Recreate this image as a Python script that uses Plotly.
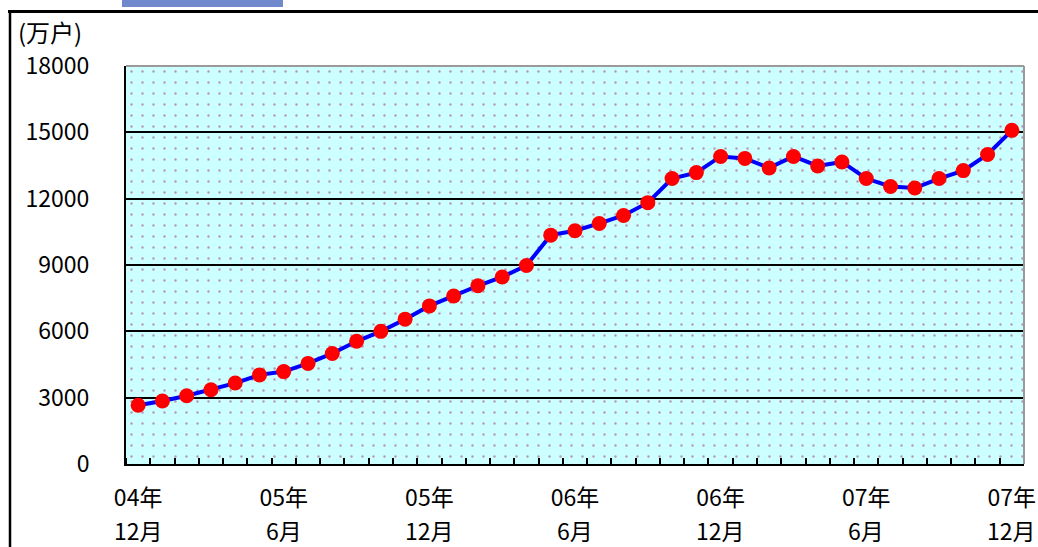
import plotly.graph_objects as go

# ---- data ----
months = ["2004-12", "2005-01", "2005-02", "2005-03", "2005-04", "2005-05", "2005-06",
          "2005-07", "2005-08", "2005-09", "2005-10", "2005-11", "2005-12",
          "2006-01", "2006-02", "2006-03", "2006-04", "2006-05", "2006-06",
          "2006-07", "2006-08", "2006-09", "2006-10", "2006-11", "2006-12",
          "2007-01", "2007-02", "2007-03", "2007-04", "2007-05", "2007-06",
          "2007-07", "2007-08", "2007-09", "2007-10", "2007-11", "2007-12"]
accounts = [2660, 2850, 3090, 3360, 3660, 4030, 4180, 4550, 5000, 5550, 6000, 6550,
            7150, 7600, 8060, 8460, 8980, 10350, 10550, 10880, 11240, 11820, 12910,
            13180, 13910, 13820, 13390, 13910, 13480, 13660, 12910, 12550, 12480,
            12910, 13270, 14000, 15090]
tick_months = ["2004-12", "2005-06", "2005-12", "2006-06", "2006-12", "2007-06", "2007-12"]
tick_years = ["04年", "05年", "05年", "06年", "06年", "07年", "07年"]
tick_month_labels = ["12月", "6月", "12月", "6月", "12月", "6月", "12月"]
y_ticks = [0, 3000, 6000, 9000, 12000, 15000, 18000]
y_tick_labels = ["0", "3000", "6000", "9000", "12000", "15000", "18000"]
y_unit = "(万户)"

# ---- geometry helpers (pixel -> paper) ----
W, H = 1038, 547
L, R, T, B = 126, 14, 66, 83
PW, PH = W - L - R, H - T - B


def px_x(p):
    return (p - L) / PW


def px_y(p):
    return (H - B - p) / PH


FONT = "Noto Sans CJK JP"
n = len(months)
xpos = list(range(n))
xmin, xmax = -0.5, n - 0.5
tick_pos = [months.index(m) for m in tick_months]

fig = go.Figure()

# dotted background
fig.add_trace(go.Scatter(
    x=[xmin, xmax, xmax, xmin], y=[0, 0, y_ticks[-1], y_ticks[-1]],
    fill="toself", mode="none", fillcolor="rgba(0,0,0,0)",
    fillpattern=dict(shape=".", fgcolor="#993366", bgcolor="rgba(0,0,0,0)",
                     size=11, solidity=0.04),
    hoverinfo="skip", showlegend=False))

fig.add_trace(go.Scatter(
    x=xpos, y=accounts, mode="lines+markers",
    line=dict(color="#0000ff", width=4),
    marker=dict(color="#ff0000", size=15, line=dict(width=0)),
    showlegend=False))

fig.update_xaxes(
    range=[xmin, xmax], showgrid=False, zeroline=False, automargin=False,
    showline=True, linecolor="#000000", linewidth=2,
    tickmode="array", tickvals=tick_pos,
    ticktext=tick_years, ticks="", ticklabelstandoff=12,
    tickfont=dict(family=FONT, size=23, color="#000000"),
    minor=dict(tickmode="array", tickvals=[i - 0.5 for i in range(n + 1)],
               ticks="inside", ticklen=6, tickwidth=2, tickcolor="#000000",
               showgrid=False),
)
fig.update_yaxes(
    range=[0, y_ticks[-1]], tickmode="array", tickvals=y_ticks,
    ticktext=y_tick_labels, automargin=False,
    showgrid=True, gridcolor="#000000", gridwidth=2, zeroline=False,
    showline=True, linecolor="#000000", linewidth=2, ticks="",
    ticklabelstandoff=30,
    tickfont=dict(family=FONT, size=23, color="#000000"),
)

shapes = [
    # top / right plot border (gray)
    dict(type="line", xref="paper", yref="paper", x0=0, x1=1, y0=1, y1=1,
         line=dict(color="#9a9a9a", width=2)),
    dict(type="line", xref="paper", yref="paper", x0=1, x1=1, y0=0, y1=1,
         line=dict(color="#9a9a9a", width=2)),
    # outer frame lines
    dict(type="line", xref="paper", yref="paper", x0=px_x(8), x1=px_x(W + 5),
         y0=px_y(11.5), y1=px_y(11.5), line=dict(color="#000000", width=3)),
    dict(type="line", xref="paper", yref="paper", x0=px_x(10), x1=px_x(10),
         y0=px_y(10), y1=px_y(H + 5), line=dict(color="#000000", width=2.5)),
    # blue tab at top
    dict(type="rect", xref="paper", yref="paper", x0=px_x(122), x1=px_x(283),
         y0=px_y(7), y1=px_y(-5), fillcolor="#7088cc", line=dict(width=0)),
]

annotations = [dict(text=y_unit, xref="paper", yref="paper",
                    x=px_x(16), y=px_y(32), xanchor="left", yanchor="middle",
                    showarrow=False, font=dict(family=FONT, size=24, color="#000000"))]
for p, lbl in zip(tick_pos, tick_month_labels):
    annotations.append(dict(text=lbl, xref="x", yref="paper", x=p, y=px_y(530),
                            xanchor="center", yanchor="middle", showarrow=False,
                            font=dict(family=FONT, size=23, color="#000000")))

fig.update_layout(
    width=W, height=H, autosize=False,
    margin=dict(l=L, r=R, t=T, b=B),
    paper_bgcolor="#ffffff", plot_bgcolor="#ccffff",
    shapes=shapes, annotations=annotations,
    font=dict(family=FONT),
)

fig.write_html("out.html",
               config={"displayModeBar": False, "responsive": False},
               post_script="document.body.style.margin='0px';"
                           "document.body.style.overflow='hidden';")
